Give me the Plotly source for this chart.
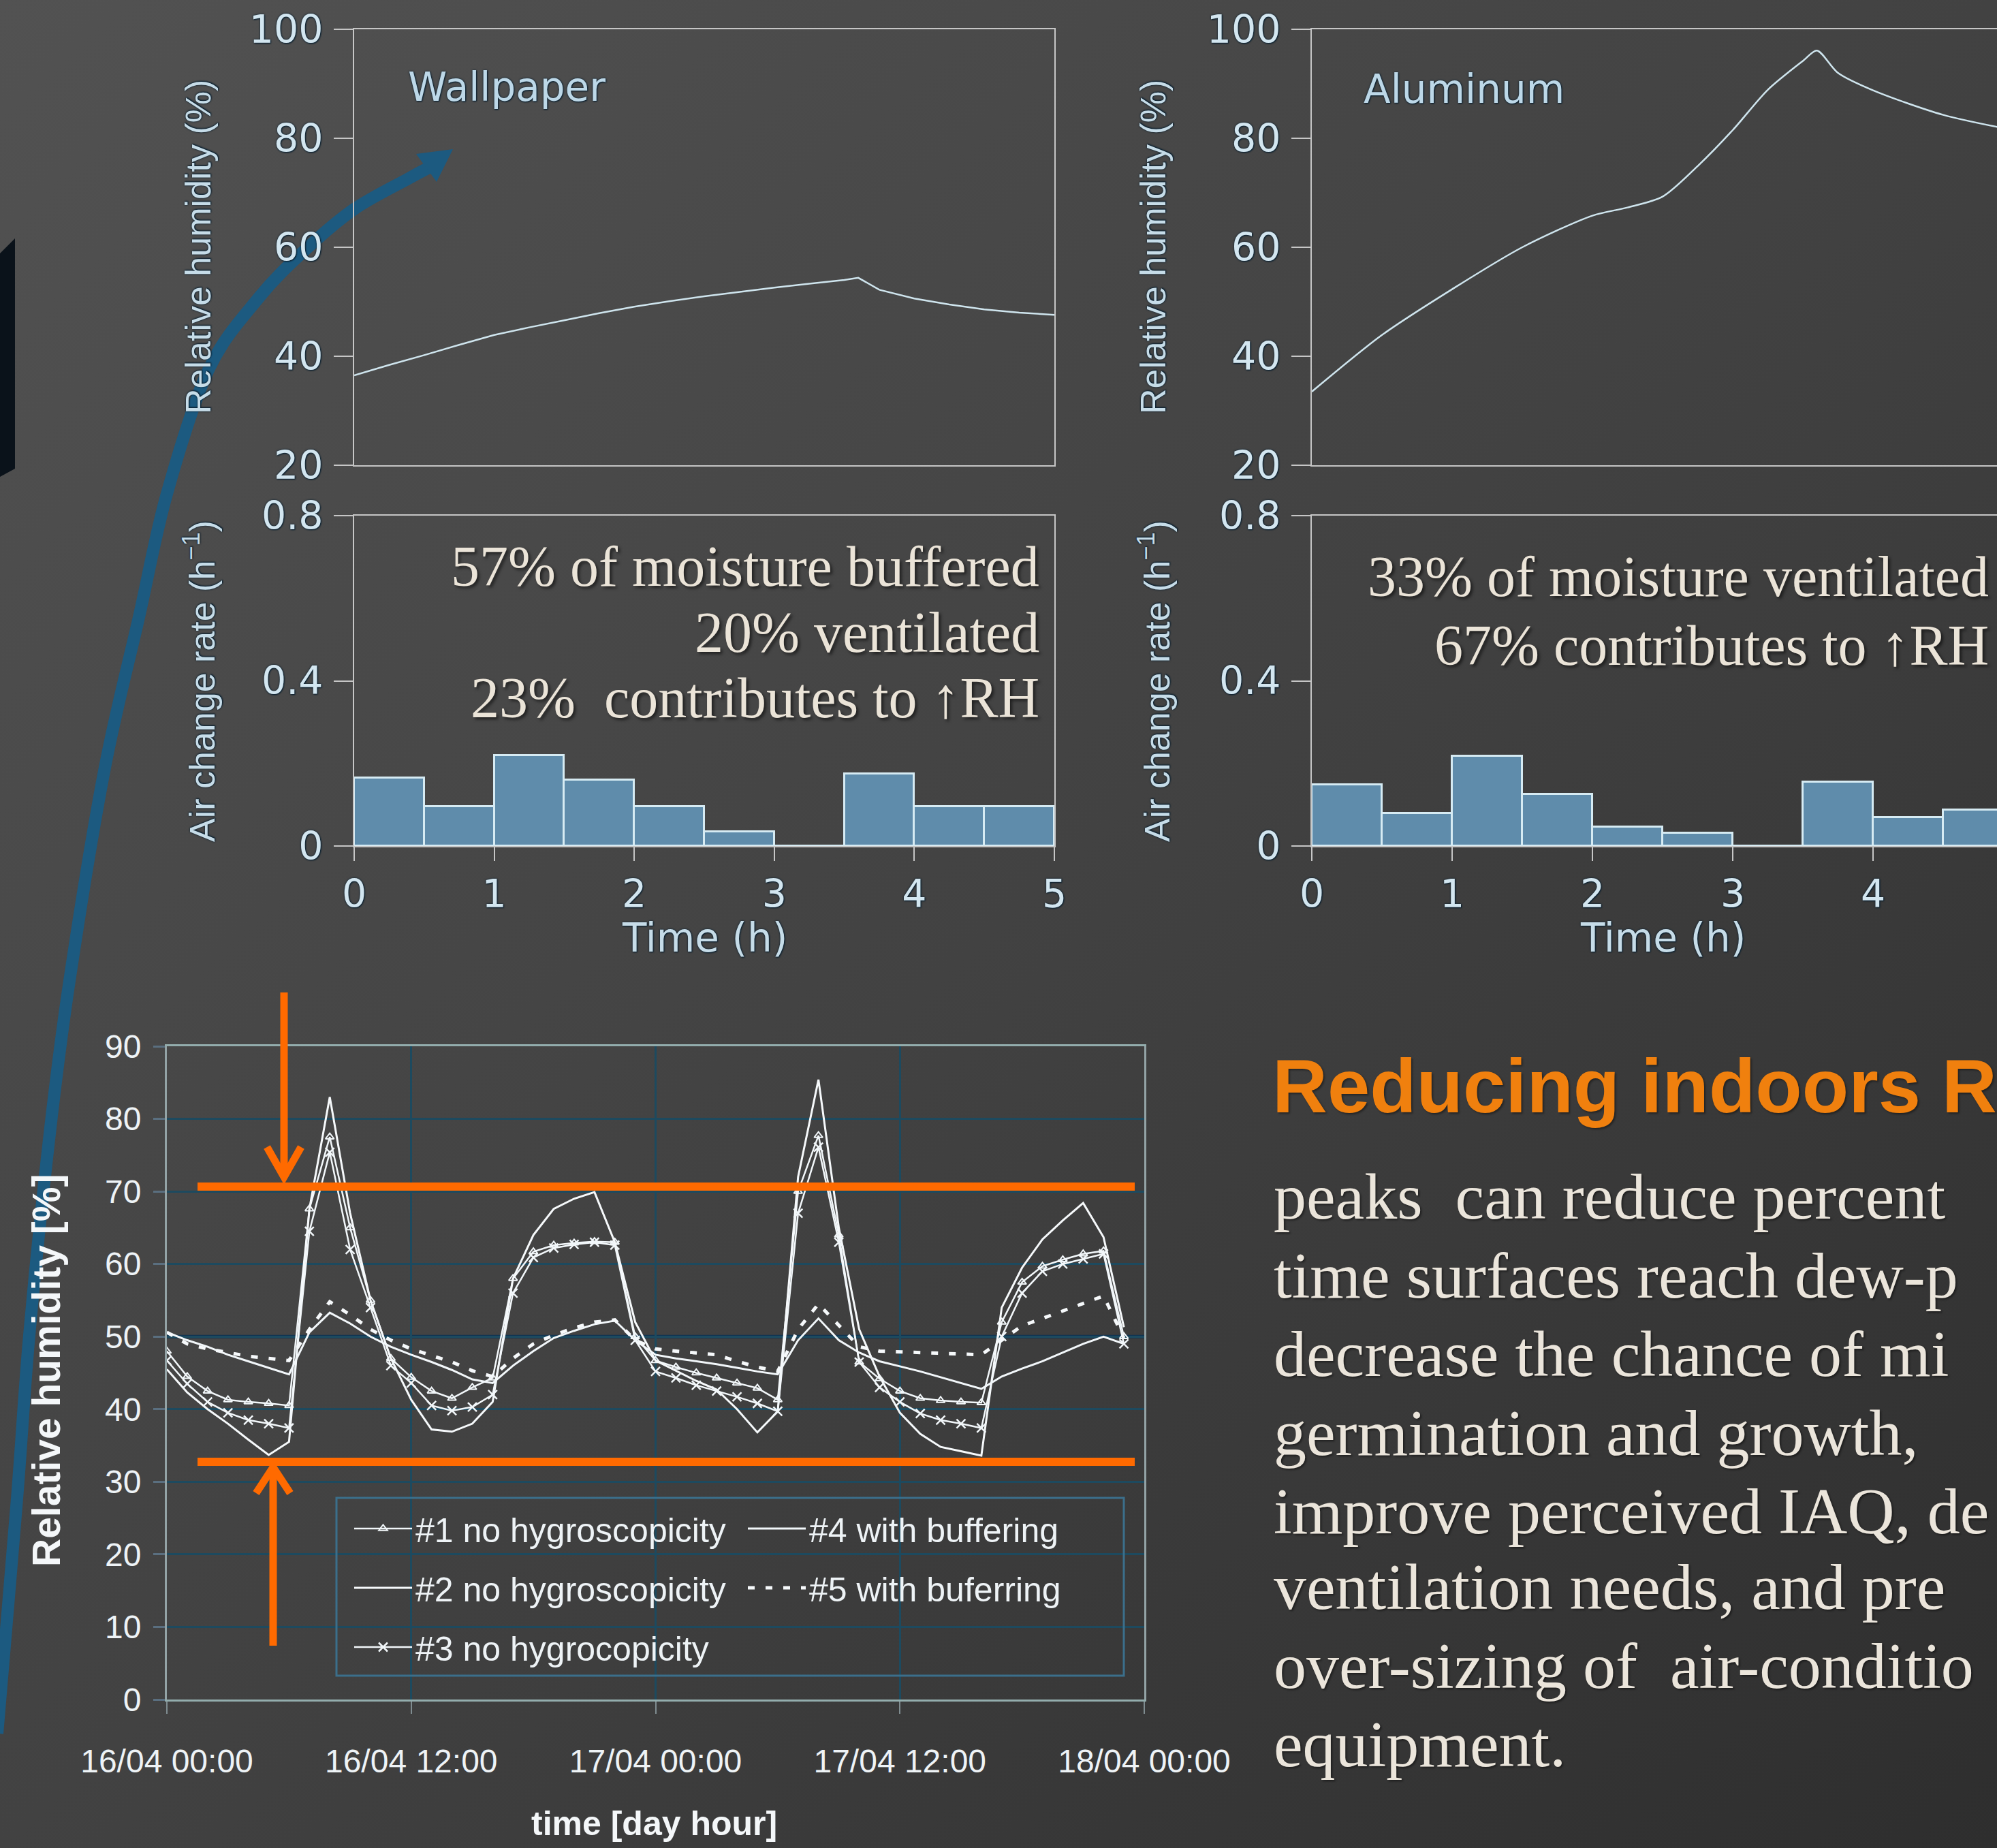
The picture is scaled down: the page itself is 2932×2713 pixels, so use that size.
import base64
import plotly.graph_objects as go

W, H = 2932, 2713

# ---------------- 5-hour chamber test: wallpaper vs aluminum ----------------
rh_time_wall = [0, 0.25, 0.5, 0.75, 1, 1.25, 1.5, 1.75, 2, 2.25, 2.5, 2.75, 3, 3.25, 3.5, 3.6,
                3.75, 4, 4.25, 4.5, 4.75, 5]
rh_wallpaper = [36.5, 38.4, 40.2, 42.1, 43.9, 45.3, 46.6, 47.9, 49.1, 50.1, 51.0, 51.8, 52.6, 53.3,
                54.0, 54.4, 52.2, 50.6, 49.5, 48.6, 48.0, 47.6]

rh_time_alu = [0, 0.5, 1, 1.5, 2, 2.25, 2.5, 2.75, 3, 3.25, 3.5, 3.6, 3.75, 4, 4.5, 5]
rh_aluminum = [33.5, 43.9, 52.3, 60.0, 65.8, 67.3, 69.3, 74.9, 81.5, 88.9, 94.2, 96.1, 92.0, 88.8, 84.3, 81.5]

ach_bins = [0.25, 0.75, 1.25, 1.75, 2.25, 2.75, 3.25, 3.75, 4.25, 4.75]
ach_wallpaper = [0.165, 0.095, 0.22, 0.16, 0.095, 0.035, 0.0, 0.175, 0.095, 0.095]
ach_aluminum = [0.148, 0.079, 0.217, 0.125, 0.046, 0.031, 0.0, 0.155, 0.069, 0.087]

rh_ticks = [20, 40, 60, 80, 100]
ach_ticks = [0, 0.4, 0.8]
ach_ticktext = ["0", "0.4", "0.8"]
hour_ticks = [0, 1, 2, 3, 4, 5]

panel_names = ["Wallpaper", "Aluminum"]
summary_wallpaper = ["57% of moisture buffered", "20% ventilated", "23%  contributes to \u2191RH"]
summary_aluminum = ["33% of moisture ventilated", "67% contributes to \u2191RH"]

# ---------------- Two-day simulation (hourly) ----------------
sim_hours = list(range(48))
rh_case1 = [48.0, 44.5, 42.5, 41.3, 41.0, 40.8, 40.5, 67.6, 77.5, 65.0, 55.0, 47.0,
            44.4, 42.5, 41.5, 43.0, 44.3, 58.0, 61.7, 62.6, 62.9, 63.1, 63.0, 50.0,
            46.7, 45.8, 45.0, 44.3, 43.6, 42.9, 41.3, 70.0, 77.7, 64.0, 46.5, 44.2,
            42.5, 41.5, 41.2, 41.0, 40.9, 52.0, 57.5, 59.7, 60.6, 61.4, 61.8, 50.0]
rh_case2 = [45.5, 42.3, 40.0, 38.0, 35.8, 33.7, 35.5, 67.6, 83.0, 67.0, 55.0, 47.0,
            41.3, 37.2, 36.9, 38.0, 41.0, 58.0, 64.0, 67.6, 69.0, 69.9, 63.0, 52.0,
            46.7, 45.3, 43.9, 42.7, 40.0, 36.8, 39.7, 72.0, 85.4, 65.0, 51.0, 44.5,
            39.5, 36.6, 34.8, 34.2, 33.6, 54.0, 59.5, 63.4, 66.0, 68.4, 63.7, 51.3]
rh_case3 = [46.7, 43.5, 41.0, 39.5, 38.5, 38.0, 37.4, 64.5, 75.4, 62.0, 54.0, 46.0,
            43.6, 40.5, 39.8, 40.3, 42.0, 56.0, 60.9, 62.2, 62.7, 63.0, 62.6, 49.5,
            45.2, 44.3, 43.3, 42.5, 41.7, 40.8, 39.7, 67.0, 76.1, 63.0, 46.5, 43.0,
            41.0, 39.4, 38.5, 38.0, 37.4, 50.0, 56.0, 59.0, 60.0, 60.7, 61.4, 49.0]
rh_case4 = [50.6, 49.5, 48.6, 47.5, 46.6, 45.7, 44.8, 50.6, 53.3, 51.8, 50.0, 48.6,
            47.5, 46.5, 45.4, 44.1, 43.6, 46.0, 48.0, 49.8, 50.8, 51.7, 52.2, 49.5,
            47.5, 47.0, 46.6, 46.2, 45.7, 45.2, 44.8, 49.5, 52.5, 49.5, 47.8, 46.6,
            45.9, 45.2, 44.4, 43.6, 42.8, 44.5, 45.6, 46.6, 47.8, 49.0, 50.0, 49.0]
rh_case5 = [50.6, 49.0, 48.3, 47.8, 47.3, 47.0, 46.7, 51.0, 54.8, 53.0, 51.0, 49.5,
            48.3, 47.4, 46.5, 45.3, 44.5, 47.0, 49.0, 50.2, 51.2, 52.0, 52.3, 49.5,
            48.3, 48.0, 47.8, 47.5, 46.6, 45.8, 45.2, 51.0, 54.5, 51.5, 48.6, 48.0,
            47.9, 47.8, 47.7, 47.6, 47.5, 49.5, 51.5, 52.5, 53.5, 54.5, 55.6, 49.8]
case_names = ["#1 no hygroscopicity", "#2 no hygroscopicity", "#3 no hygrocopicity",
              "#4 with buffering", "#5 with buferring"]

day_ticks = [0, 12, 24, 36, 48]
day_ticktext = ["16/04 00:00", "16/04 12:00", "17/04 00:00", "17/04 12:00", "18/04 00:00"]
pct_ticks = list(range(0, 100, 10))

heading = "Reducing indoors R"
body_lines = [
    "peaks  can reduce percent",
    "time surfaces reach dew-p",
    "decrease the chance of mi",
    "germination and growth,",
    "improve perceived IAQ, de",
    "ventilation needs, and pre",
    "over-sizing of  air-conditio",
    "equipment.",
]

# ---------------- helpers (pixel -> paper) ----------------
def X(px):
    return px / W


def Y(py):
    return 1 - py / H


def xdom(a, b):
    return [a / W, b / W]


def ydom(top, bottom):
    return [1 - bottom / H, 1 - top / H]


def smooth_path(pts):
    d = f"M{X(pts[0][0]):.5f},{Y(pts[0][1]):.5f}"
    n = len(pts)
    for i in range(n - 1):
        p0 = pts[i - 1] if i > 0 else pts[i]
        p1, p2 = pts[i], pts[i + 1]
        p3 = pts[i + 2] if i + 2 < n else pts[i + 1]
        c1 = (p1[0] + (p2[0] - p0[0]) / 6, p1[1] + (p2[1] - p0[1]) / 6)
        c2 = (p2[0] - (p3[0] - p1[0]) / 6, p2[1] - (p3[1] - p1[1]) / 6)
        d += (f" C{X(c1[0]):.5f},{Y(c1[1]):.5f} {X(c2[0]):.5f},{Y(c2[1]):.5f}"
              f" {X(p2[0]):.5f},{Y(p2[1]):.5f}")
    return d


def poly_path(pts, close=False):
    d = "M" + " L".join(f"{X(x):.5f},{Y(y):.5f}" for x, y in pts)
    return d + (" Z" if close else "")


SANS = "Liberation Sans, Arial, sans-serif"
WIDE = "DejaVu Sans, Verdana, sans-serif"
SERIF = "Liberation Serif, Times New Roman, serif"

AX_TEXT = "#d3e6f0"
AX_SHADOW = "0px 0px 3px #0a2030, 1px 1px 2px #0a2030"
FRAME = "#c6c6c6"
SUMMARY_COLOR = "#ebe4d8"
SUMMARY_SHADOW = "3px 3px 4px rgba(0,0,0,0.55)"

fig = go.Figure()

# ---- top panels: relative humidity lines ----
fig.add_trace(go.Scatter(x=rh_time_wall, y=rh_wallpaper, mode="lines",
                         line=dict(color="#cfe5ee", width=2.5),
                         xaxis="x", yaxis="y", showlegend=False, hoverinfo="skip"))
fig.add_trace(go.Scatter(x=rh_time_alu, y=rh_aluminum, mode="lines",
                         line=dict(color="#cfe5ee", width=2.5, shape="spline", smoothing=0.8),
                         xaxis="x3", yaxis="y3", showlegend=False, hoverinfo="skip"))

# ---- top panels: air change rate histograms ----
bar_style = dict(color="#5f8cab", line=dict(color="#d6ebf3", width=3))
fig.add_trace(go.Bar(x=ach_bins, y=ach_wallpaper, width=0.5, marker=bar_style,
                     xaxis="x2", yaxis="y2", showlegend=False, hoverinfo="skip"))
fig.add_trace(go.Bar(x=ach_bins, y=ach_aluminum, width=0.5, marker=bar_style,
                     xaxis="x4", yaxis="y4", showlegend=False, hoverinfo="skip"))

# ---- bottom chart: five simulated cases ----
case_styles = [
    dict(mode="lines+markers", line=dict(color="#f2f7fa", width=2.5),
         marker=dict(symbol="triangle-up-open", size=11, color="#f2f7fa", line=dict(width=2))),
    dict(mode="lines", line=dict(color="#f6f9fb", width=3)),
    dict(mode="lines+markers", line=dict(color="#f2f7fa", width=2.5),
         marker=dict(symbol="x-thin-open", size=13, color="#f2f7fa", line=dict(width=2.5, color="#f2f7fa"))),
    dict(mode="lines", line=dict(color="#f2f7fa", width=3)),
    dict(mode="lines", line=dict(color="#f6f9fb", width=5, dash="10px,16px")),
]
case_values = [rh_case1, rh_case2, rh_case3, rh_case4, rh_case5]
case_legends = ["legend", "legend", "legend", "legend2", "legend2"]
for i, (name, vals, style, lg) in enumerate(zip(case_names, case_values, case_styles, case_legends)):
    fig.add_trace(go.Scatter(x=sim_hours, y=vals, name=name, legendgroup=f"case{i + 1}",
                             legend=lg, xaxis="x5", yaxis="y5", hoverinfo="skip", **style))

# ---------------- axes ----------------
frame = dict(showline=True, linecolor=FRAME, linewidth=2, showgrid=False, zeroline=False,
             automargin=False)
tick_font = dict(family=WIDE, size=57, color=AX_TEXT, shadow=AX_SHADOW)
ytick = dict(ticks="outside", ticklen=28, tickwidth=2, tickcolor=FRAME, tickfont=tick_font,
             ticklabelstandoff=4)
xtick = dict(ticks="outside", ticklen=20, tickwidth=2, tickcolor=FRAME, tickfont=tick_font,
             ticklabelstandoff=0)

alu_xmax = (2932 - 1926) / 206.0
sim_font = dict(family=SANS, size=48, color="#eef3f6")

layout_axes = dict(
    xaxis=dict(domain=xdom(520, 1548), range=[0, 5], anchor="y", showticklabels=False,
               ticks="", mirror=True, **frame),
    yaxis=dict(domain=ydom(43, 683), range=[20, 100], anchor="x", tickvals=rh_ticks,
               mirror=True, **frame, **ytick),
    xaxis2=dict(domain=xdom(520, 1548), range=[0, 5], anchor="y2", tickvals=hour_ticks,
                mirror=True, **frame, **xtick),
    yaxis2=dict(domain=ydom(757, 1242), range=[0, 0.8], anchor="x2", tickvals=ach_ticks,
                ticktext=ach_ticktext, mirror=True, **frame, **ytick),
    xaxis3=dict(domain=xdom(1926, 2932), range=[0, alu_xmax], anchor="y3", showticklabels=False,
                ticks="", mirror=True, **frame),
    yaxis3=dict(domain=ydom(43, 683), range=[20, 100], anchor="x3", tickvals=rh_ticks,
                mirror=False, **frame, **ytick),
    xaxis4=dict(domain=xdom(1926, 2932), range=[0, alu_xmax], anchor="y4", tickvals=hour_ticks,
                mirror=True, **frame, **xtick),
    yaxis4=dict(domain=ydom(757, 1242), range=[0, 0.8], anchor="x4", tickvals=ach_ticks,
                ticktext=ach_ticktext, mirror=False, **frame, **ytick),
    xaxis5=dict(domain=xdom(245, 1680), range=[0, 48], anchor="y5", tickvals=day_ticks,
                ticktext=day_ticktext, showline=True, linecolor="#93adad", linewidth=3, mirror=True,
                showgrid=True, gridcolor="#1d4a5f", gridwidth=3, zeroline=False, automargin=False,
                ticks="outside", ticklen=18, tickwidth=2, tickcolor="#7f8c90",
                tickfont=sim_font, ticklabelstandoff=28),
    yaxis5=dict(domain=ydom(1536, 2495), range=[0, 90], anchor="x5", tickvals=pct_ticks,
                showline=True, linecolor="#93a3a6", linewidth=3, mirror=True,
                showgrid=True, gridcolor="#1d4a5f", gridwidth=3, zeroline=False, automargin=False,
                ticks="outside", ticklen=17, tickwidth=3, tickcolor="#5a6f80",
                tickfont=sim_font, ticklabelstandoff=8),
)

# ---------------- text ----------------
annotations = []


def add_text(text, x, y, size, color, family=SANS, xanchor="center", yanchor="middle",
             angle=0, shadow=None):
    font = dict(family=family, size=size, color=color)
    if shadow:
        font["shadow"] = shadow
    annotations.append(dict(text=text, x=X(x), y=Y(y), xref="paper", yref="paper",
                            xanchor=xanchor, yanchor=yanchor, textangle=angle,
                            showarrow=False, font=font))


axis_title_color = "#c6dce8"
for x_title, x_center in [(291, 1034), (1693, 2441)]:
    add_text("Relative humidity (%)", x_title, 363, 52, axis_title_color, angle=-90, shadow=AX_SHADOW)
    add_text("Air change rate (h<sup>\u22121</sup>)", x_title + 2, 1000, 52, axis_title_color,
             angle=-90, shadow=AX_SHADOW)
    add_text("Time (h)", x_center, 1377, 58, axis_title_color, family=WIDE, shadow=AX_SHADOW)

add_text(panel_names[0], 597, 128, 58, "#bdd8e8", family=WIDE, xanchor="left", shadow=AX_SHADOW)
add_text(panel_names[1], 2000, 131, 58, "#bdd8e8", family=WIDE, xanchor="left", shadow=AX_SHADOW)

for line, yc in zip(summary_wallpaper, [831, 928, 1024]):
    add_text(line, 1528, yc, 84, SUMMARY_COLOR, family=SERIF, xanchor="right", shadow=SUMMARY_SHADOW)
for line, yc in zip(summary_aluminum, [847, 947]):
    add_text(line, 2922, yc, 84, SUMMARY_COLOR, family=SERIF, xanchor="right", shadow=SUMMARY_SHADOW)

add_text("<b>Relative humidity [%]</b>", 68, 2012, 57, "#f4f7f9", angle=-90)
add_text("<b>time [day hour]</b>", 960, 2677, 50, "#f4f7f9")

add_text(f"<b>{heading}</b>", 1866, 1594, 112, "#f0800e", xanchor="left",
         shadow="2px 2px 3px rgba(0,0,0,0.4)")
for line, yc in zip(body_lines, [1762, 1878, 1993, 2109, 2224, 2335, 2451, 2566]):
    add_text(line, 1868, yc - 6, 96, "#ebe5db", family=SERIF, xanchor="left",
             shadow="2px 2px 3px rgba(0,0,0,0.45)")

# ---------------- decorations ----------------
shapes = []

# curved blue pointer rising from the lower left into the wallpaper panel
pointer = [(-4, 2545), (25, 2200), (43, 1960), (72, 1673), (102, 1440), (153, 1132),
           (204, 906), (245, 725), (306, 543), (380, 437), (449, 366), (520, 307),
           (600, 262), (630, 246)]
shapes.append(dict(type="path", xref="paper", yref="paper", path=smooth_path(pointer),
                   line=dict(color="#1c5a80", width=18), layer="below"))
shapes.append(dict(type="path", xref="paper", yref="paper",
                   path=poly_path([(665, 219), (611, 226), (641, 267)], close=True),
                   fillcolor="#1c5a80", line=dict(width=0), layer="below"))

# dark block on the left edge
shapes.append(dict(type="path", xref="paper", yref="paper",
                   path=poly_path([(0, 372), (22, 350), (22, 688), (0, 700)], close=True),
                   fillcolor="#0a121a", line=dict(width=0), layer="below"))

# emphasised 50 % reference line
shapes.append(dict(type="line", xref="paper", yref="y5", x0=X(245), x1=X(1680), y0=50, y1=50,
                   line=dict(color="#0f3352", width=5), layer="below"))

# legend frame of the bottom chart
shapes.append(dict(type="rect", xref="paper", yref="paper", x0=X(494), x1=X(1650),
                   y0=Y(2460), y1=Y(2199), line=dict(color="#3b6f8b", width=3),
                   fillcolor="rgba(0,0,0,0)"))

# orange comfort band and pointers
ORANGE = "#ff6a00"
for yb in (1742, 2146):
    shapes.append(dict(type="line", xref="paper", yref="paper", x0=X(290), x1=X(1666),
                       y0=Y(yb), y1=Y(yb), line=dict(color=ORANGE, width=12)))
shapes.append(dict(type="line", xref="paper", yref="paper", x0=X(417), x1=X(417),
                   y0=Y(1457), y1=Y(1722), line=dict(color=ORANGE, width=11)))
shapes.append(dict(type="path", xref="paper", yref="paper",
                   path=poly_path([(392, 1684), (417, 1728), (442, 1684)]),
                   line=dict(color=ORANGE, width=11)))
shapes.append(dict(type="line", xref="paper", yref="paper", x0=X(401), x1=X(401),
                   y0=Y(2416), y1=Y(2158), line=dict(color=ORANGE, width=11)))
shapes.append(dict(type="path", xref="paper", yref="paper",
                   path=poly_path([(376, 2192), (401, 2154), (426, 2192)]),
                   line=dict(color=ORANGE, width=11)))

# slide background gradient
bg_svg = (
    f'<svg xmlns="http://www.w3.org/2000/svg" width="{W}" height="{H}" viewBox="0 0 {W} {H}" '
    'preserveAspectRatio="none"><defs><linearGradient id="g" x1="0" y1="0" x2="1" y2="1">'
    '<stop offset="0" stop-color="#525252"/><stop offset="0.5" stop-color="#424242"/>'
    '<stop offset="1" stop-color="#2e2e2e"/></linearGradient></defs>'
    f'<rect x="0" y="0" width="{W}" height="{H}" fill="url(#g)"/></svg>'
)
bg_uri = "data:image/svg+xml;base64," + base64.b64encode(bg_svg.encode()).decode()

legend_common = dict(orientation="v", xanchor="left", yanchor="top", bgcolor="rgba(0,0,0,0)",
                     borderwidth=0, font=dict(family=SANS, size=50, color="#eef3f6"),
                     itemwidth=85, tracegroupgap=19)

fig.update_layout(
    width=W, height=H, margin=dict(l=0, r=0, t=0, b=0, pad=0, autoexpand=False),
    paper_bgcolor="#404040", plot_bgcolor="rgba(0,0,0,0)",
    bargap=0, showlegend=True,
    legend=dict(x=X(515), y=Y(2205), **legend_common),
    legend2=dict(x=X(1093), y=Y(2205), **legend_common),
    images=[dict(source=bg_uri, xref="paper", yref="paper", x=0, y=1, sizex=1, sizey=1,
                 xanchor="left", yanchor="top", sizing="stretch", layer="below")],
    annotations=annotations, shapes=shapes,
    **layout_axes,
)

fig.write_html("out.html")
